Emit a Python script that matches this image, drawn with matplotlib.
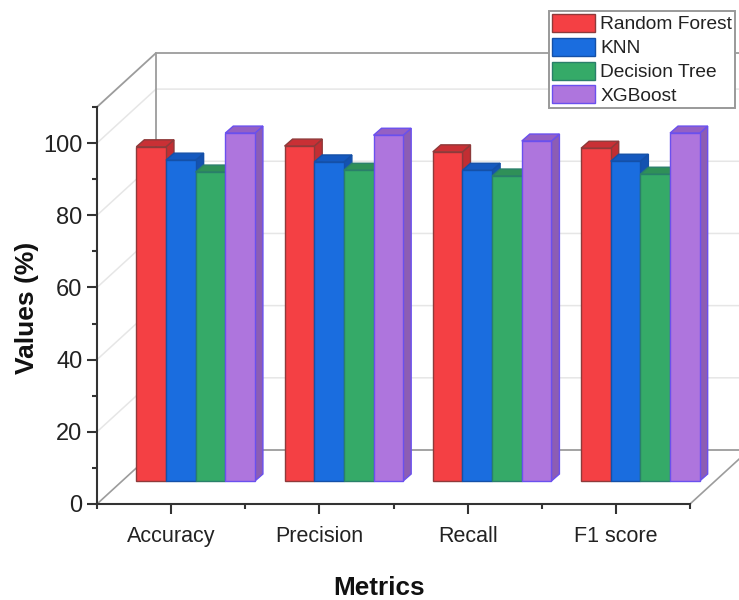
import matplotlib
matplotlib.use("Agg")
import matplotlib.pyplot as plt
from matplotlib.patches import Patch, Polygon

plt.rcParams['font.family'] = ['Liberation Sans', 'DejaVu Sans']

metrics = ["Accuracy", "Precision", "Recall", "F1 score"]
series_names = ["Random Forest", "KNN", "Decision Tree", "XGBoost"]
random_forest = [92.6, 92.8, 91.2, 92.2]
knn = [88.9, 88.4, 86.1, 88.6]
decision_tree = [85.6, 86.1, 84.5, 85.0]
xgboost = [96.4, 95.8, 94.2, 96.4]
series_values = [random_forest, knn, decision_tree, xgboost]

front_colors = ["#F44044", "#1A6DDF", "#35AA68", "#AE75DD"]
edge_colors = ["#8E3A3A", "#1450A8", "#2A7F6A", "#6A50EE"]
top_colors = ["#C93035", "#1559BF", "#2F9058", "#9460C4"]
side_colors = ["#C22E33", "#1452B0", "#2C8A55", "#8C5DB4"]

W, H = 739, 600
fig = plt.figure(figsize=(W / 100, H / 100), dpi=100, facecolor="white")
ax = fig.add_axes([97 / W, 1 - 504 / H, 593 / W, 397 / H])
ax.set_xlim(-0.5, 3.5)
ax.set_ylim(0, 110)
ax.patch.set_alpha(0)

px = 593 / 4        # pixels per category
py = 397 / 110      # pixels per value unit
wall_dx, wall_dy = 59 / px, 54 / py       # depth of the floor
plane_dx, plane_dy = 24.5 / px, 23 / py   # bars plane inside the depth
bar_dx, bar_dy = 8 / px, 7 / py           # depth of a bar
bar_w = 0.2

x0, x1 = -0.5, 3.5
wall = "#9C9C9C"
grid = "#E6E6E6"
# gridlines on wall and left side
for v in [20, 40, 60, 80, 100]:
    ax.plot([x0, x0 + wall_dx, x1 + wall_dx], [v, v + wall_dy, v + wall_dy],
            color=grid, lw=1.1, clip_on=False, zorder=1)
# frame of the box
ax.plot([x0, x0 + wall_dx, x0 + wall_dx, x1 + wall_dx],
        [110, 110 + wall_dy, wall_dy, wall_dy], color=wall, lw=1.3, clip_on=False, zorder=1.5)
ax.plot([x0 + wall_dx, x1 + wall_dx], [110 + wall_dy, 110 + wall_dy],
        color=wall, lw=1.3, clip_on=False, zorder=1.5)
ax.plot([x0, x0 + wall_dx], [0, wall_dy], color=wall, lw=1.2, clip_on=False, zorder=1.5)
ax.plot([x1, x1 + wall_dx], [0, wall_dy], color=wall, lw=1.2, clip_on=False, zorder=1.5)

z = 3
for i in range(len(metrics)):
    for j, vals in enumerate(series_values):
        left = i + plane_dx + (j - 2) * bar_w
        right = left + bar_w
        base = plane_dy
        top = base + vals[i]
        ax.add_patch(Polygon([(right, base), (right + bar_dx, base + bar_dy),
                              (right + bar_dx, top + bar_dy), (right, top)],
                             fc=side_colors[j], ec=edge_colors[j], lw=1.0, zorder=z, clip_on=False))
        ax.add_patch(Polygon([(left, top), (left + bar_dx, top + bar_dy),
                              (right + bar_dx, top + bar_dy), (right, top)],
                             fc=top_colors[j], ec=edge_colors[j], lw=1.0, zorder=z, clip_on=False))
        ax.bar(left + bar_w / 2, vals[i], width=bar_w, bottom=base,
               color=front_colors[j], edgecolor=edge_colors[j], linewidth=1.0,
               zorder=z + 0.5, clip_on=False)
        z += 1

# axes
for s in ["top", "right"]:
    ax.spines[s].set_visible(False)
for s in ["left", "bottom"]:
    ax.spines[s].set_color("#333333")
    ax.spines[s].set_linewidth(1.5)
    ax.spines[s].set_zorder(50)
ax.set_xticks(range(len(metrics)))
ax.set_xticklabels(metrics, fontsize=15.5, color="#222222")
ax.set_xticks([-0.5, 0.5, 1.5, 2.5, 3.5], minor=True)
ax.set_yticks([0, 20, 40, 60, 80, 100])
ax.set_yticks([10, 30, 50, 70, 90, 110], minor=True)
ax.tick_params(axis="y", which="major", length=7.5, width=1.5, color="#333333",
               labelsize=17, labelcolor="#222222", pad=3)
ax.tick_params(axis="x", which="major", length=7.5, width=1.5, color="#333333", pad=8)
ax.tick_params(which="minor", length=3.6, width=1.5, color="#333333")
ax.set_xlabel("Metrics", fontsize=18.8, fontweight="bold", color="#111111")
ax.xaxis.set_label_coords(0.4755, -0.181)
ax.set_ylabel("Values (%)", fontsize=19, fontweight="bold", color="#111111")
ax.yaxis.set_label_coords(-0.097, 0.494)

# legend
handles = [Patch(fc=front_colors[k], ec=edge_colors[k], lw=1.0, label=series_names[k])
           for k in range(len(series_names))]
leg = fig.legend(handles=handles, loc="upper left", bbox_to_anchor=(549 / W, 1 - 11 / H),
                 bbox_transform=fig.transFigure, fontsize=13.8, frameon=True, fancybox=False,
                 framealpha=1, edgecolor="#999999", borderpad=0.15, borderaxespad=0,
                 handlelength=2.25, handleheight=1.08, handletextpad=0.28, labelspacing=0.22)
leg.get_frame().set_linewidth(1.4)
leg.set_zorder(100)
for t in leg.get_texts():
    t.set_color("#222222")

fig.savefig("out.png", dpi=100)
